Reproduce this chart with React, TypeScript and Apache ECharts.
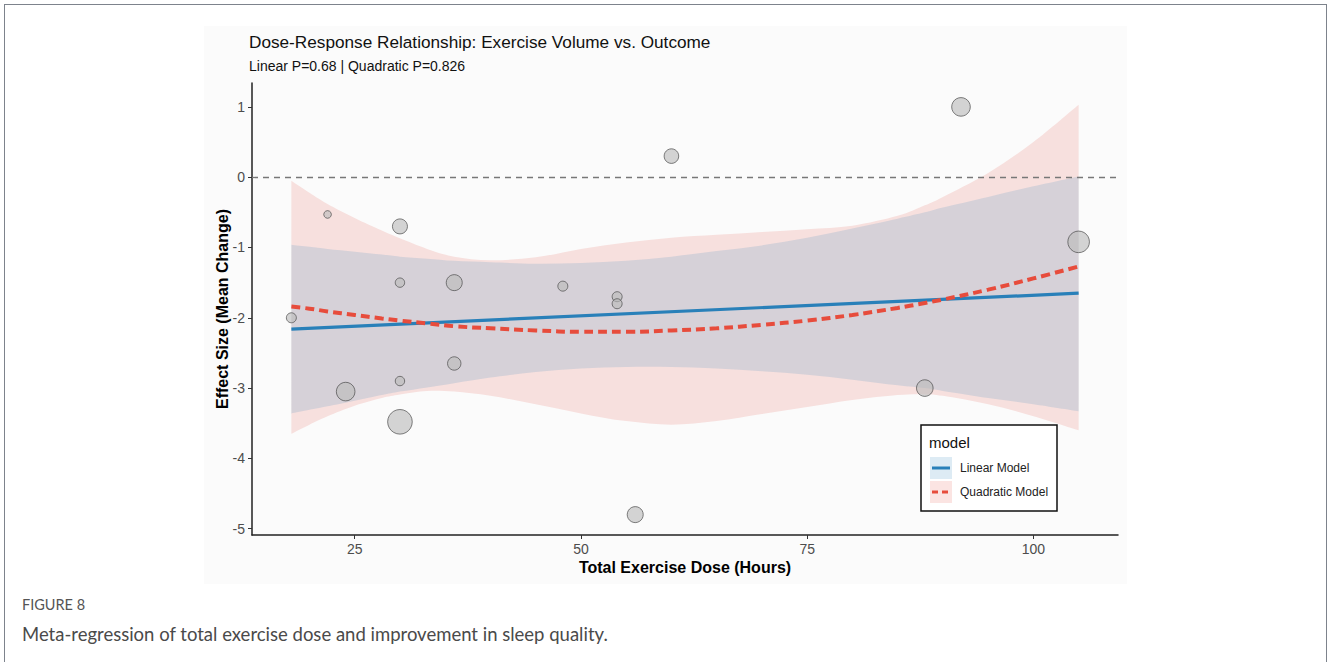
import React, { useEffect, useRef } from "react";
import * as echarts from "echarts";

// Individual studies: total dose (hours), effect size, and study weight (bubble radius)
const studyDose = [18, 22, 24, 30, 30, 30, 30, 36, 36, 48, 54, 54, 56, 60, 88, 92, 105];
const studyEffect = [-2.0, -0.53, -3.05, -0.7, -1.5, -2.9, -3.48, -1.5, -2.65, -1.55, -1.7, -1.8, -4.8, 0.3, -3.0, 1.0, -0.92];
const studyWeight = [5, 3.8, 9.3, 7.5, 4.7, 4.7, 12.3, 8, 6.7, 5, 5, 5, 8, 7.3, 8.3, 9.3, 10.8];

// Fitted curves and their confidence bands
const curveDose = [18, 20, 22, 25, 28, 30, 33, 36, 40, 45, 50, 55, 60, 65, 70, 75, 80, 85, 88, 90, 95, 100, 105];
const linearDose = [18, 105];
const linearFit = [-2.16, -1.65];
const linearUpper = [-0.96, -0.99, -1.02, -1.06, -1.1, -1.13, -1.16, -1.19, -1.21, -1.23, -1.22, -1.19, -1.13, -1.05, -0.97, -0.86, -0.73, -0.59, -0.5, -0.43, -0.28, -0.13, 0.01];
const linearLower = [-3.36, -3.31, -3.26, -3.18, -3.1, -3.05, -2.99, -2.93, -2.85, -2.77, -2.72, -2.7, -2.7, -2.72, -2.76, -2.81, -2.88, -2.96, -3.0, -3.04, -3.14, -3.23, -3.33];
const quadFit = [-1.84, -1.87, -1.91, -1.96, -2.01, -2.04, -2.08, -2.12, -2.15, -2.18, -2.2, -2.2, -2.18, -2.15, -2.1, -2.04, -1.96, -1.86, -1.79, -1.74, -1.6, -1.44, -1.27];
const quadUpper = [-0.05, -0.22, -0.38, -0.58, -0.76, -0.87, -1.02, -1.13, -1.18, -1.14, -1.02, -0.93, -0.86, -0.82, -0.78, -0.74, -0.69, -0.55, -0.4, -0.28, 0.06, 0.5, 1.03];
const quadLower = [-3.65, -3.52, -3.4, -3.25, -3.14, -3.09, -3.04, -3.05, -3.11, -3.23, -3.36, -3.47, -3.52, -3.47, -3.37, -3.27, -3.17, -3.1, -3.09, -3.11, -3.23, -3.4, -3.6];

const xTicks = [25, 50, 75, 100];
const yTicks = [-5, -4, -3, -2, -1, 0, 1];

const BLUE = "#2980b9";
const RED = "#e74c3c";
const BLUE_FILL = "rgba(41,128,185,0.16)";
const RED_FILL = "rgba(231,76,60,0.15)";
const FONT = "'Liberation Sans', Arial, sans-serif";

type Pt = number[];

// Catmull-Rom curve through pixel points, written as cubic Bezier path commands.
function curveCommands(pts: Pt[], move: boolean): string {
  let d = (move ? "M" : "L") + pts[0][0] + "," + pts[0][1];
  for (let i = 0; i < pts.length - 1; i++) {
    const p0 = pts[Math.max(i - 1, 0)];
    const p1 = pts[i];
    const p2 = pts[i + 1];
    const p3 = pts[Math.min(i + 2, pts.length - 1)];
    const c1x = p1[0] + (p2[0] - p0[0]) / 6;
    const c1y = p1[1] + (p2[1] - p0[1]) / 6;
    const c2x = p2[0] - (p3[0] - p1[0]) / 6;
    const c2y = p2[1] - (p3[1] - p1[1]) / 6;
    d += "C" + c1x + "," + c1y + " " + c2x + "," + c2y + " " + p2[0] + "," + p2[1];
  }
  return d;
}

// A confidence band: smooth upper edge left to right, smooth lower edge back, closed.
function bandSeries(id: string, lower: number[], upper: number[], fill: string) {
  return {
    type: "custom",
    name: id,
    silent: true,
    z: 1,
    data: [0],
    renderItem: (_params: any, api: any) => {
      const top = curveDose.map((x, i) => api.coord([x, upper[i]]));
      const bottom = curveDose.map((x, i) => api.coord([x, lower[i]])).reverse();
      const pathData = curveCommands(top, true) + curveCommands(bottom, false) + "Z";
      return {
        type: "path",
        shape: { pathData },
        style: { fill, stroke: "none" },
        silent: true,
      };
    },
  };
}

export default function App() {
  const ref = useRef<HTMLDivElement>(null);

  useEffect(() => {
    if (!ref.current) return;
    const chart = echarts.init(ref.current, null, { renderer: "svg" });

    const axisCommon = {
      type: "value",
      splitLine: { show: false },
      axisLine: { show: true, onZero: false, lineStyle: { color: "#222", width: 1.5 } },
      axisTick: { show: true, length: 4, lineStyle: { color: "#333", width: 1 } },
      axisLabel: { color: "#4d4d4d", fontSize: 14, fontFamily: FONT, margin: 7 },
      nameLocation: "middle",
      nameMoveOverlap: false,
      nameTextStyle: { color: "#000", fontSize: 16, fontWeight: "bold", fontFamily: FONT },
    };

    chart.setOption({
      animation: false,
      backgroundColor: "transparent",
      grid: { left: 252, right: 210, top: 83, bottom: 127, containLabel: false },
      xAxis: {
        ...axisCommon,
        min: 13.65,
        max: 109.35,
        name: "Total Exercise Dose (Hours)",
        nameGap: 24,
        axisTick: { ...axisCommon.axisTick, customValues: xTicks },
        axisLabel: { ...axisCommon.axisLabel, customValues: xTicks },
      },
      yAxis: {
        ...axisCommon,
        min: -5.09,
        max: 1.34,
        name: "Effect Size (Mean Change)",
        nameGap: 22,
        axisTick: { ...axisCommon.axisTick, customValues: yTicks },
        axisLabel: { ...axisCommon.axisLabel, customValues: yTicks },
      },
      series: [
        bandSeries("quadBand", quadLower, quadUpper, RED_FILL),
        bandSeries("linBand", linearLower, linearUpper, BLUE_FILL),
        {
          type: "line",
          name: "Linear Model",
          data: linearDose.map((x, i) => [x, linearFit[i]]),
          symbol: "none",
          lineStyle: { color: BLUE, width: 3.2 },
          z: 3,
        },
        {
          type: "line",
          name: "Quadratic Model",
          data: curveDose.map((x, i) => [x, quadFit[i]]),
          smooth: 0.4,
          symbol: "none",
          lineStyle: { color: RED, width: 4, type: [9, 5] },
          z: 3,
        },
        {
          type: "scatter",
          name: "Studies",
          data: studyDose.map((x, i) => [x, studyEffect[i], studyWeight[i]]),
          symbolSize: (v: number[]) => v[2] * 2,
          itemStyle: { color: "rgba(185,185,185,0.75)", borderColor: "rgba(70,70,70,0.85)", borderWidth: 1 },
          markLine: {
            silent: true,
            symbol: "none",
            label: { show: false },
            lineStyle: { color: "#777", width: 1.3, type: [6, 5] },
            data: [{ yAxis: 0 }],
          },
          z: 4,
        },
      ],
      graphic: [
        { type: "text", x: 249, y: 42, style: { text: "Dose-Response Relationship: Exercise Volume vs. Outcome", fontSize: 17.2, fontFamily: FONT, fill: "#111", verticalAlign: "middle" } },
        { type: "text", x: 249, y: 66, style: { text: "Linear P=0.68 | Quadratic P=0.826", fontSize: 14, fontFamily: FONT, fill: "#111", verticalAlign: "middle" } },
        // legend
        {
          type: "group",
          children: [
            { type: "rect", z: 50, shape: { x: 921, y: 425, width: 136, height: 86 }, style: { fill: "#fff", stroke: "#111", lineWidth: 1.5 } },
            { type: "text", z: 51, x: 929, y: 442, style: { text: "model", fontSize: 15, fontFamily: FONT, fill: "#111", verticalAlign: "middle" } },
            { type: "rect", z: 51, shape: { x: 930, y: 457, width: 22, height: 22 }, style: { fill: BLUE_FILL } },
            { type: "line", z: 52, shape: { x1: 932, y1: 468, x2: 950, y2: 468 }, style: { stroke: BLUE, lineWidth: 3 } },
            { type: "text", z: 51, x: 960, y: 468, style: { text: "Linear Model", fontSize: 12, fontFamily: FONT, fill: "#222", verticalAlign: "middle" } },
            { type: "rect", z: 51, shape: { x: 930, y: 481, width: 22, height: 22 }, style: { fill: RED_FILL } },
            { type: "line", z: 52, shape: { x1: 932, y1: 492, x2: 950, y2: 492 }, style: { stroke: RED, lineWidth: 3, lineDash: [6, 4] } },
            { type: "text", z: 51, x: 960, y: 492, style: { text: "Quadratic Model", fontSize: 12, fontFamily: FONT, fill: "#222", verticalAlign: "middle" } },
          ],
        },
        // figure caption
        { type: "text", x: 22, y: 604, style: { text: "FIGURE 8", fontSize: 14.5, fontFamily: "Lato, sans-serif", fill: "#555", verticalAlign: "middle" } },
        { type: "text", x: 22, y: 634, style: { text: "Meta-regression of total exercise dose and improvement in sleep quality.", fontSize: 18.5, fontFamily: "Lato, sans-serif", fill: "#4a4a4a", verticalAlign: "middle" } },
      ],
    });

    return () => chart.dispose();
  }, []);

  return (
    <div style={{ position: "absolute", left: 0, top: 0, width: 1328, height: 662, background: "#fff", overflow: "hidden" }}>
      {/* figure frame and plot backdrop */}
      <div style={{ position: "absolute", left: 4, top: 4, width: 1321, height: 700, border: "1.5px solid #7d838c" }} />
      <div style={{ position: "absolute", left: 204, top: 26, width: 923, height: 558, background: "#fbfbfb" }} />
      <div ref={ref} style={{ position: "absolute", left: 0, top: 0, width: 1328, height: 662 }} />
    </div>
  );
}
